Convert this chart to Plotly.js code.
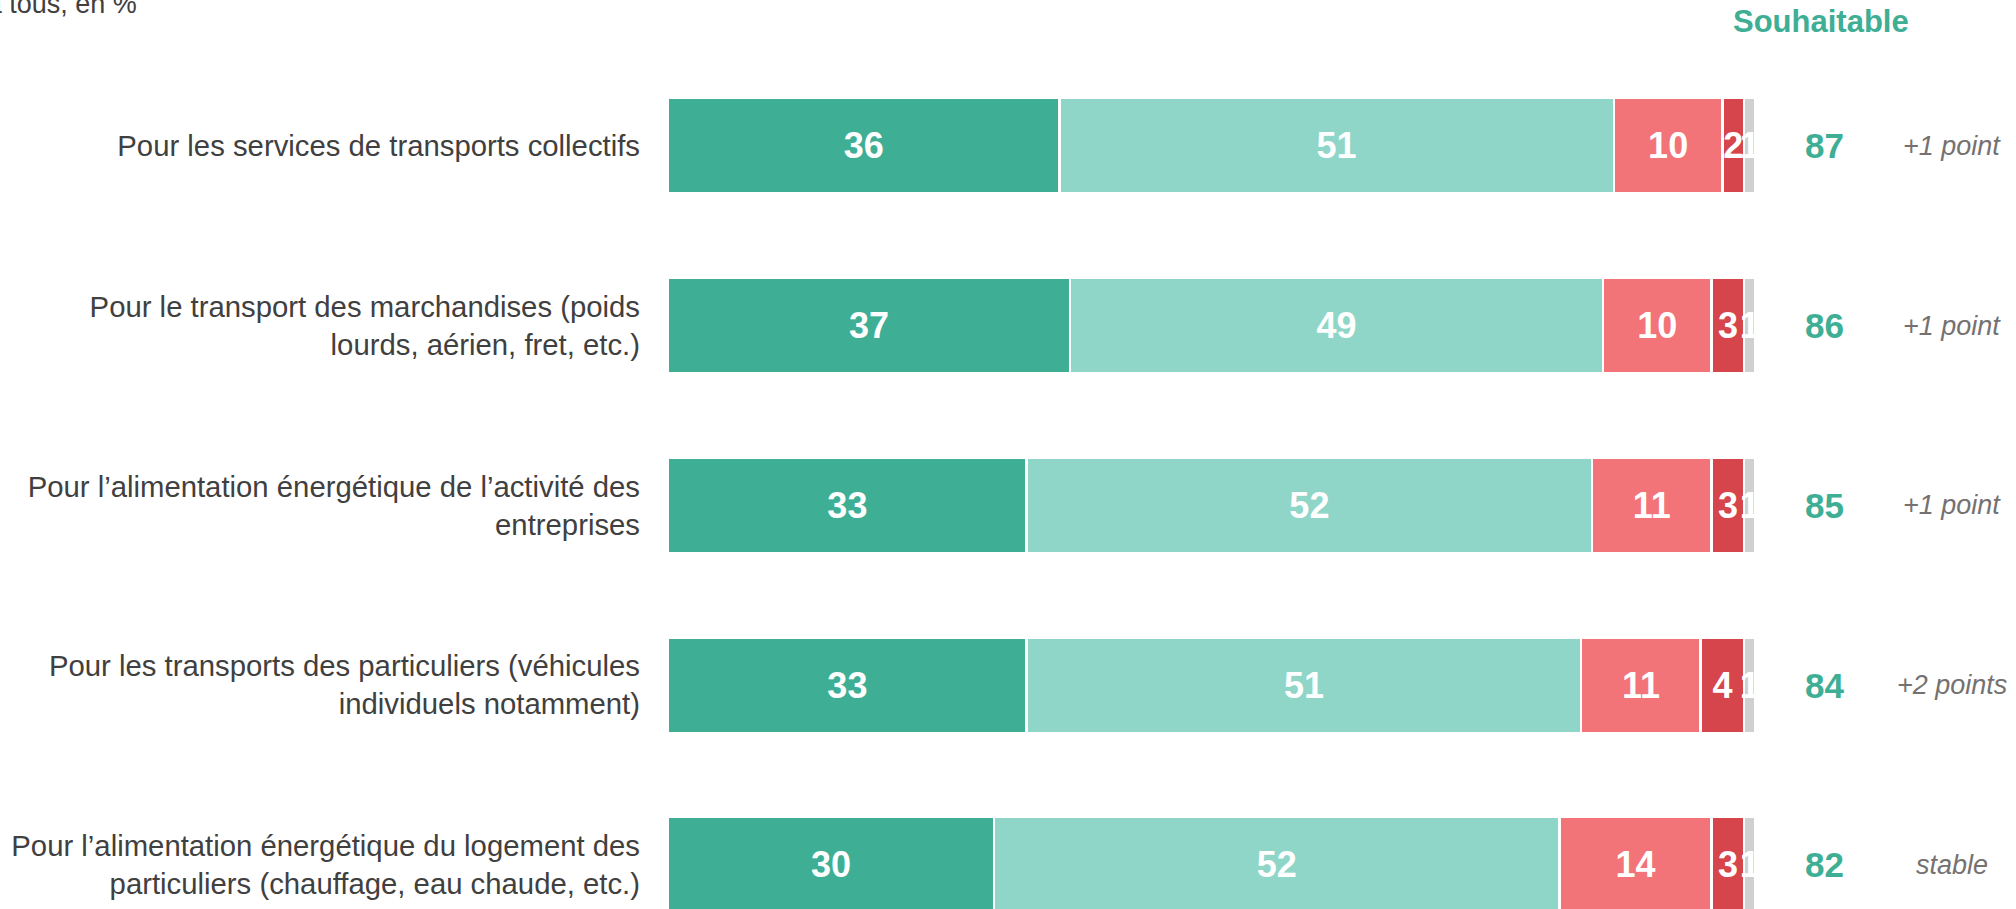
<!DOCTYPE html>
<html>
<head>
<meta charset="utf-8">
<script src="https://cdn.plot.ly/plotly-3.0.1.min.js"></script>
<style>
  html, body { margin: 0; padding: 0; background: #ffffff; }
  #chart { width: 2016px; height: 909px; }
</style>
</head>
<body>
<div id="chart"></div>
<script>
// ---- Data ----
const categories = [
  "Pour les services de transports collectifs",
  "Pour le transport des marchandises (poids<br>lourds, aérien, fret, etc.)",
  "Pour l’alimentation énergétique de l’activité des<br>entreprises",
  "Pour les transports des particuliers (véhicules<br>individuels notamment)",
  "Pour l’alimentation énergétique du logement des<br>particuliers (chauffage, eau chaude, etc.)"
];
const tresSouhaitable   = [36, 37, 33, 33, 30];
const plutotSouhaitable = [51, 49, 52, 51, 52];
const plutotPasSouhait  = [10, 10, 11, 11, 14];
const pasDuToutSouhait  = [2, 3, 3, 4, 3];
const nspValues         = [1, 1, 1, 1, 1];
const totalSouhaitable  = [87, 86, 85, 84, 82];
const evolution         = ["+1 point", "+1 point", "+1 point", "+2 points", "stable"];
const seriesNames = ["Très souhaitable", "Plutôt souhaitable", "Plutôt pas souhaitable", "Pas du tout souhaitable", "Ne se prononce pas"];

// ---- Styles ----
const colors = ["#3EAE94", "#8FD6C8", "#F27378", "#D6444C", "#D0D0D0"];
const FONT = "Liberation Sans, Arial, sans-serif";
const seriesValues = [tresSouhaitable, plutotSouhaitable, plutotPasSouhait, pasDuToutSouhait, nspValues];

const traces = seriesValues.map((vals, i) => ({
  type: "bar",
  orientation: "h",
  name: seriesNames[i],
  x: vals,
  y: categories,
  width: 0.53,
  marker: { color: colors[i], line: { color: "#ffffff", width: 2.5 } },
  text: vals.map(String),
  textposition: "inside",
  insidetextanchor: "middle",
  constraintext: "none",
  textangle: 0,
  textfont: { family: FONT, size: 36, color: "#ffffff", weight: "bold" },
  hoverinfo: "skip",
  showlegend: false
}));

const annotations = [];
categories.forEach((c, i) => {
  annotations.push({
    x: 106.4, y: c, xref: "x", yref: "y",
    text: "<b>" + totalSouhaitable[i] + "</b>",
    showarrow: false, xanchor: "center", yanchor: "middle",
    font: { family: FONT, size: 35, color: "#3EAE94" }
  });
  annotations.push({
    x: 118.1, y: c, xref: "x", yref: "y",
    text: "<i>" + evolution[i] + "</i>",
    showarrow: false, xanchor: "center", yanchor: "middle",
    font: { family: FONT, size: 27, color: "#767171" }
  });
});
annotations.push({
  x: 106.1, y: 1.0399, xref: "x", yref: "paper",
  text: "<b>Souhaitable</b>", showarrow: false,
  xanchor: "center", yanchor: "middle",
  font: { family: FONT, size: 31, color: "#3EAE94" }
});
annotations.push({
  x: -0.3924, y: 1.0615, xref: "paper", yref: "paper",
  text: "Question posée à tous, en %", showarrow: false,
  xanchor: "right", yanchor: "middle",
  font: { family: FONT, size: 27, color: "#404040" }
});

const layout = {
  width: 2016, height: 909,
  margin: { l: 668, r: 0, t: 56, b: 0, pad: 0 },
  paper_bgcolor: "#ffffff", plot_bgcolor: "#ffffff",
  barmode: "stack",
  bargap: 0.47,
  showlegend: false,
  font: { family: FONT },
  xaxis: {
    range: [0, 124.0],
    showgrid: false, zeroline: false, showline: false,
    showticklabels: false, ticks: "", fixedrange: true
  },
  yaxis: {
    type: "category",
    categoryorder: "array", categoryarray: categories,
    range: [4.2455, -0.5],
    showgrid: false, zeroline: false, showline: false,
    ticks: "", ticklabelstandoff: 27,
    tickfont: { family: FONT, size: 29.3, color: "#404040" },
    fixedrange: true
  },
  annotations: annotations
};

Plotly.newPlot("chart", traces, layout, { staticPlot: true, displayModeBar: false });
</script>
</body>
</html>
